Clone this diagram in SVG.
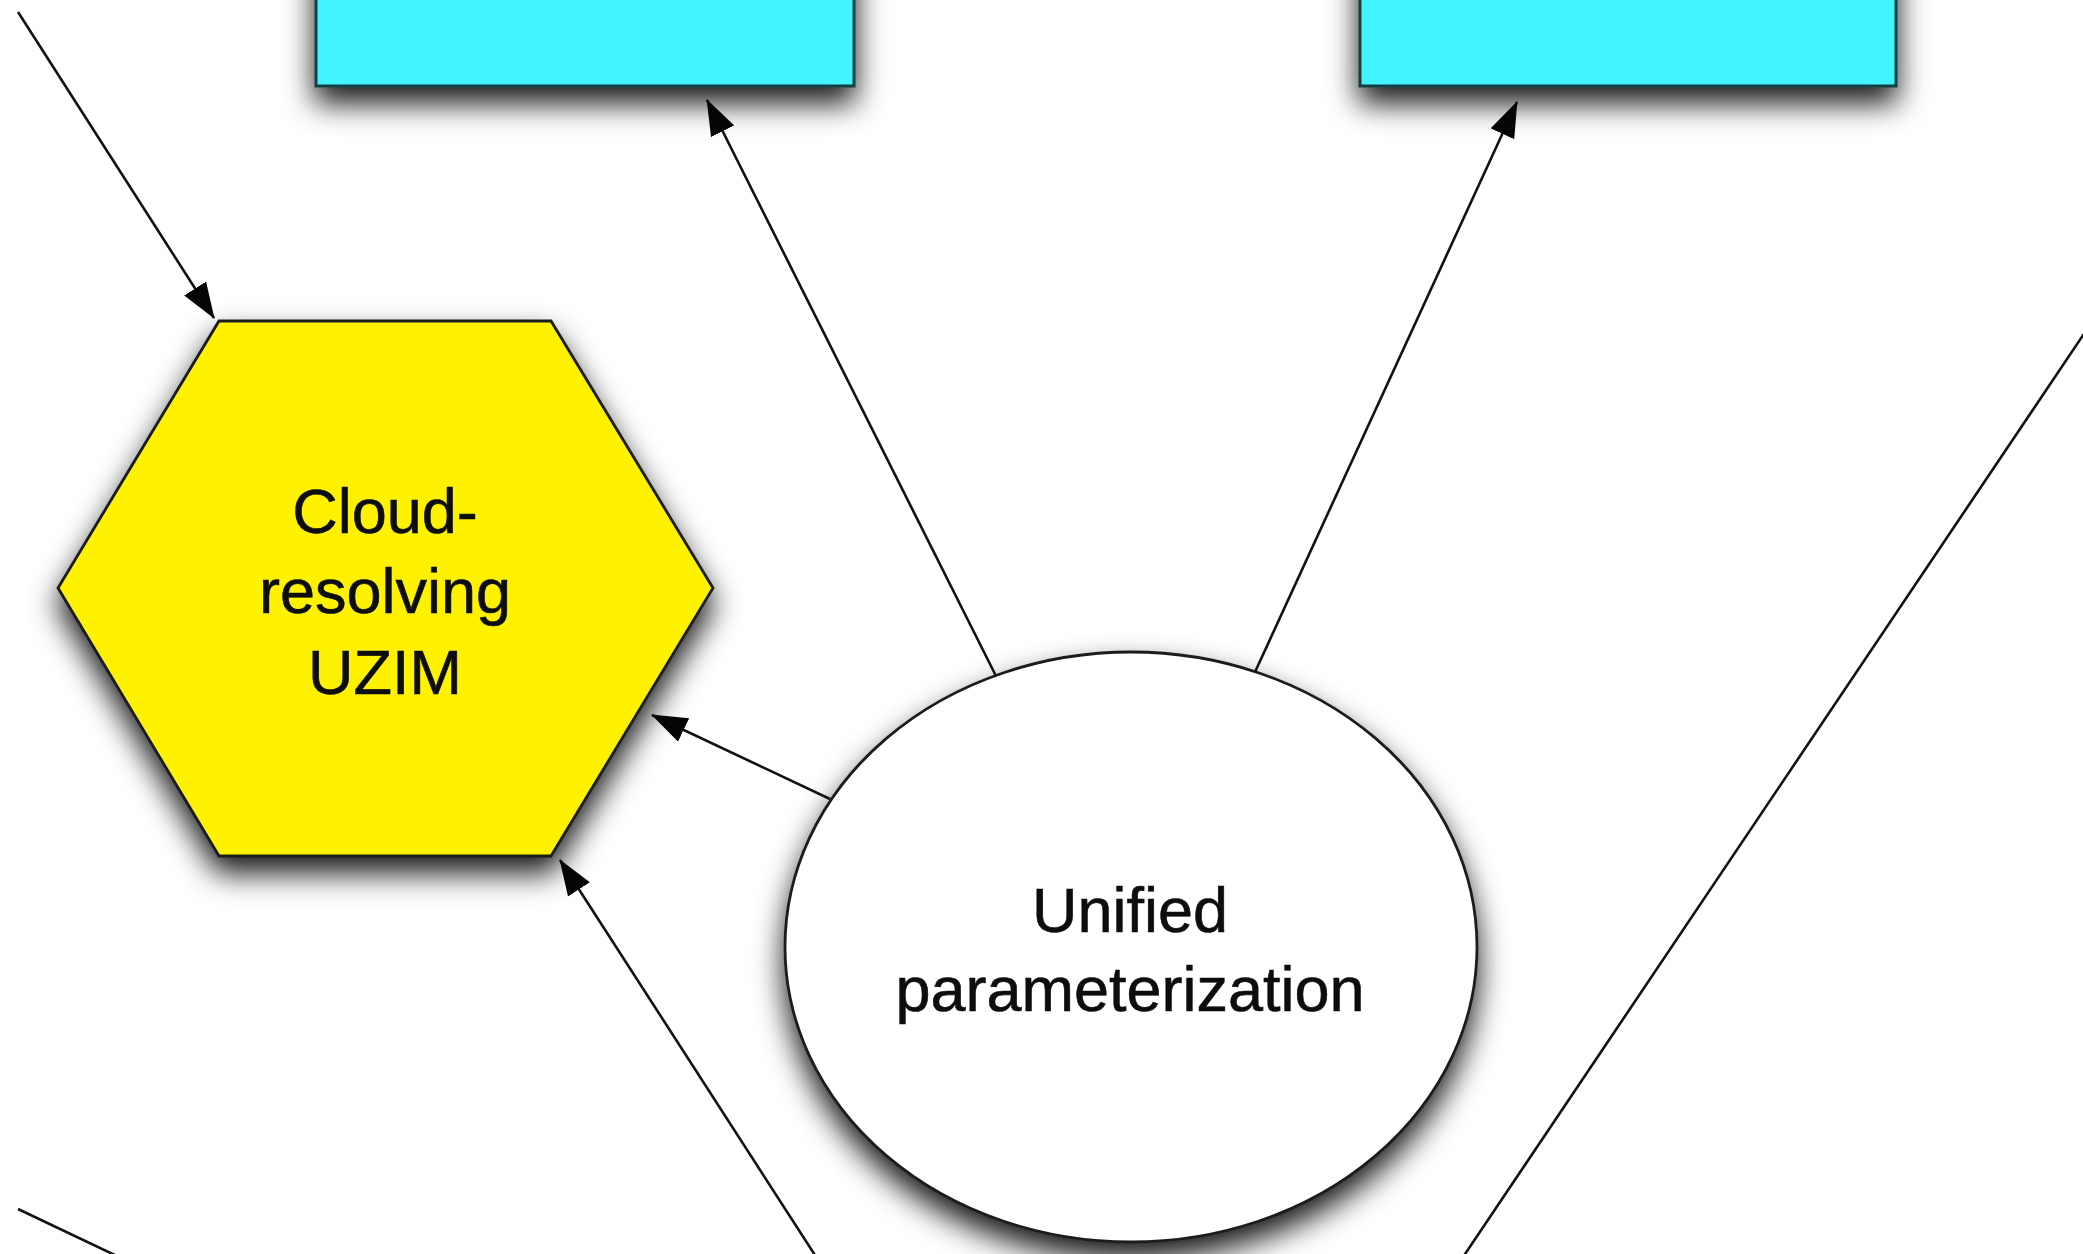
<svg xmlns="http://www.w3.org/2000/svg" width="2083" height="1254" viewBox="0 0 2083 1254">
  <style>
    .node-stroke { stroke: #1b1b1b; stroke-width: 2.8; }
    .box { fill: #43f4ff; stroke: #123c40; stroke-width: 3; }
    .hex { fill: #fef200; }
    .oval { fill: #ffffff; }
    .label { font-family: "Liberation Sans", Arial, Helvetica, sans-serif; font-size: 63px; fill: #0d0d0d; text-anchor: middle; stroke: #0d0d0d; stroke-width: 0.6; }
    .edge { fill: none; stroke: #121212; stroke-width: 2.6; }
    .arrow { marker-end: url(#head); }
  </style>
  <defs>
    <filter id="shadow" x="-30%" y="-30%" width="160%" height="180%">
      <feDropShadow dx="0" dy="16" stdDeviation="15" flood-color="#000000" flood-opacity="0.9"/>
    </filter>
    <marker id="head" markerUnits="userSpaceOnUse" viewBox="0 0 36 26" markerWidth="36" markerHeight="26" refX="35" refY="13" orient="auto">
      <path d="M0,0 L36,13 L0,26 Z" fill="#050505"/>
    </marker>
  </defs>

  <rect width="2083" height="1254" fill="#ffffff"/>

  <!-- upper boxes, cut off at the top edge -->
  <g id="box-left">
    <rect class="box" x="316" y="-120" width="538" height="206" filter="url(#shadow)"/>
  </g>
  <g id="box-right">
    <rect class="box" x="1360" y="-120" width="536" height="206" filter="url(#shadow)"/>
  </g>

  <!-- cloud-resolving model -->
  <g id="cloud-resolving-uzim">
    <polygon class="hex node-stroke" points="219,321 551,321 713,588 551,856 219,856 58,588" filter="url(#shadow)"/>
    <text class="label" x="385" y="533">Cloud-</text>
    <text class="label" x="385" y="613">resolving</text>
    <text class="label" x="385" y="694">UZIM</text>
  </g>

  <!-- parameterization hub -->
  <g id="unified-parameterization">
    <ellipse class="oval node-stroke" cx="1131" cy="947" rx="346" ry="295" filter="url(#shadow)"/>
    <text class="label" x="1130" y="932">Unified</text>
    <text class="label" x="1130" y="1011">parameterization</text>
  </g>

  <g id="connectors">
    <line class="edge arrow" x1="18" y1="12" x2="214" y2="318"/>
    <line class="edge arrow" x1="996" y1="676" x2="707" y2="100"/>
    <line class="edge arrow" x1="1255" y1="672" x2="1517" y2="102"/>
    <line class="edge arrow" x1="830" y1="799" x2="652" y2="715"/>
    <line class="edge arrow" x1="822" y1="1266" x2="560" y2="860"/>
    <line class="edge" x1="1457" y1="1266" x2="2100" y2="310"/>
    <line class="edge" x1="18" y1="1209" x2="140" y2="1267"/>
  </g>
</svg>
